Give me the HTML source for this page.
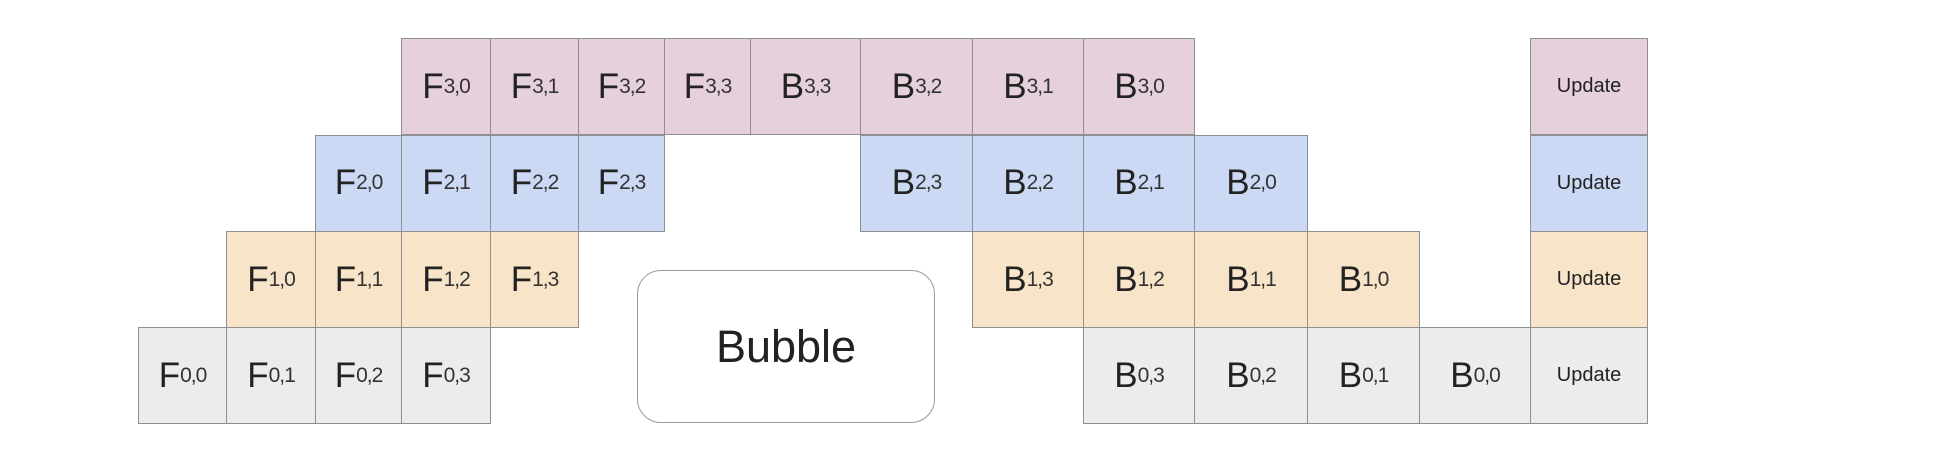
<!DOCTYPE html>
<html><head><meta charset="utf-8"><style>
body{margin:0;width:1935px;height:459px;background:#fff;overflow:hidden;position:relative;font-family:"Liberation Sans",sans-serif;color:#222}
.c{position:absolute;box-sizing:border-box;border:1px solid #8f8f8f;display:flex;align-items:center;justify-content:center;font-size:35px}
.c sub{font-size:21px;vertical-align:-4px;color:#333;letter-spacing:-1px}
.u{font-size:20px}
#bubble{position:absolute;left:637px;top:270px;width:298px;height:153px;border:1.5px solid #999;border-radius:24px;box-sizing:border-box;display:flex;align-items:center;justify-content:center;font-size:45px}
</style></head><body>
<div id="bubble">Bubble</div>
<script>
const colX=[138,226,315,401,490,578,664,750,860,972,1083,1194,1307,1419,1530,1647];
const rowY=[327,231,134.5,38]; const rowH=96;
const colors=['#ececec','#f8e4c8','#ccd9f4','#e5d0dc'];
// [row, startCol, label, sub]
const cells=[
[3,3,'F','3,0'],[3,4,'F','3,1'],[3,5,'F','3,2'],[3,6,'F','3,3'],[3,7,'B','3,3'],[3,8,'B','3,2'],[3,9,'B','3,1'],[3,10,'B','3,0'],
[2,2,'F','2,0'],[2,3,'F','2,1'],[2,4,'F','2,2'],[2,5,'F','2,3'],[2,8,'B','2,3'],[2,9,'B','2,2'],[2,10,'B','2,1'],[2,11,'B','2,0'],
[1,1,'F','1,0'],[1,2,'F','1,1'],[1,3,'F','1,2'],[1,4,'F','1,3'],[1,9,'B','1,3'],[1,10,'B','1,2'],[1,11,'B','1,1'],[1,12,'B','1,0'],
[0,0,'F','0,0'],[0,1,'F','0,1'],[0,2,'F','0,2'],[0,3,'F','0,3'],[0,10,'B','0,3'],[0,11,'B','0,2'],[0,12,'B','0,1'],[0,13,'B','0,0'],
[3,14,'Update',''],[2,14,'Update',''],[1,14,'Update',''],[0,14,'Update','']];
cells.forEach(c=>{
 const d=document.createElement('div');
 d.className='c'+(c[2]==='Update'?' u':'');
 d.style.left=colX[c[1]]+'px';d.style.top=rowY[c[0]]+'px';
 d.style.width=(colX[c[1]+1]-colX[c[1]]+1)+'px';d.style.height=(rowH+1)+'px';
 d.style.background=colors[c[0]];
 d.innerHTML=c[2]+(c[3]?'<sub>'+c[3]+'</sub>':'');
 
 
 document.body.appendChild(d);
});
</script>
</body></html>
